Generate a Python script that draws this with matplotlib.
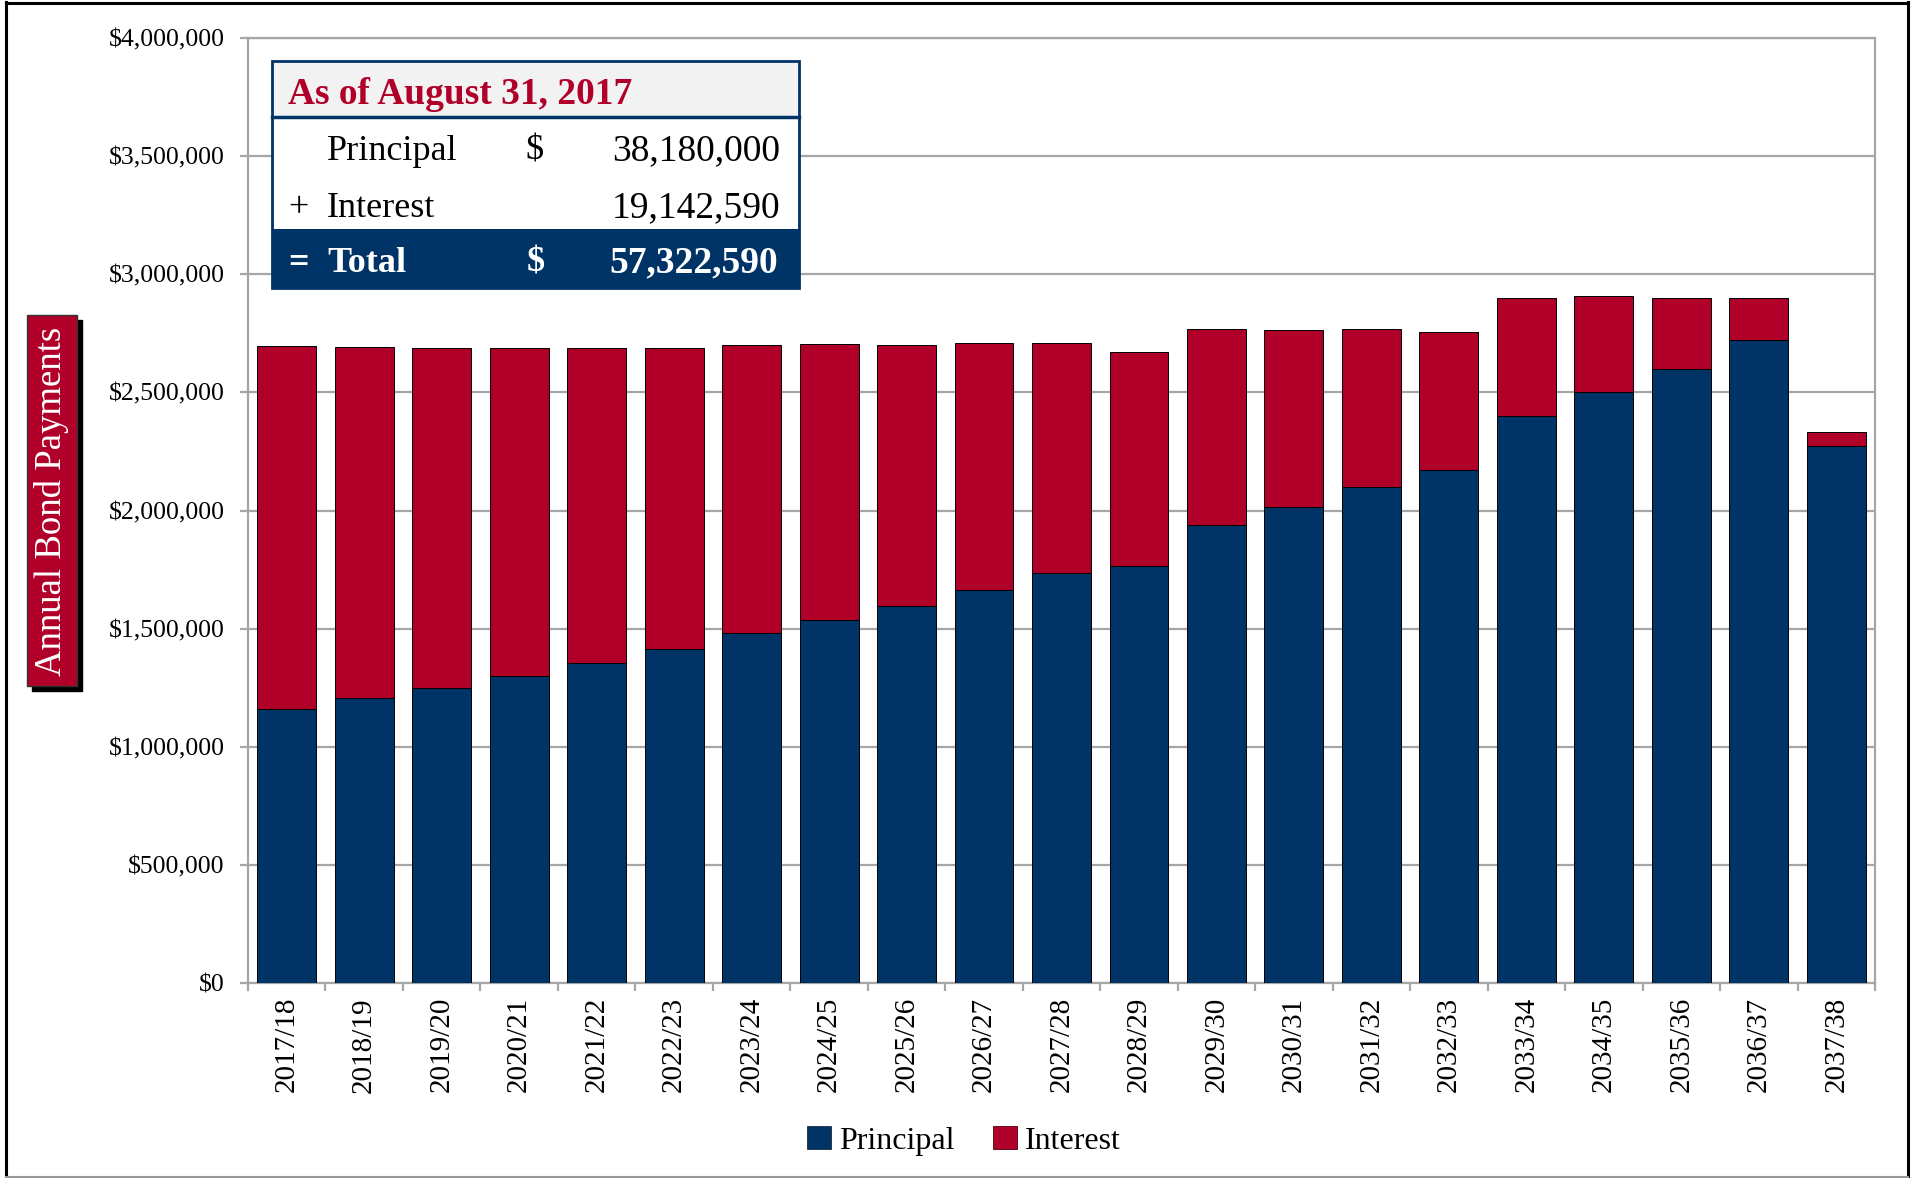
import matplotlib
matplotlib.use("Agg")
import matplotlib.pyplot as plt
from matplotlib.patches import Rectangle, Patch
from matplotlib.lines import Line2D
import numpy as np

# ---------------- data ----------------
years = ["2017/18", "2018/19", "2019/20", "2020/21", "2021/22", "2022/23", "2023/24",
         "2024/25", "2025/26", "2026/27", "2027/28", "2028/29", "2029/30", "2030/31",
         "2031/32", "2032/33", "2033/34", "2034/35", "2035/36", "2036/37", "2037/38"]
principal = [1160000, 1205000, 1250000, 1300000, 1355000, 1415000, 1480000,
             1535000, 1595000, 1665000, 1735000, 1765000, 1940000, 2015000,
             2100000, 2170000, 2400000, 2500000, 2600000, 2720000, 2275000]
interest = [1535000, 1488000, 1438000, 1387000, 1333000, 1273000, 1222000,
            1170000, 1106000, 1042000, 975000, 905000, 830000, 751000,
            670000, 587000, 501000, 406000, 301000, 181000, 58000]
yticks = [0, 500000, 1000000, 1500000, 2000000, 2500000, 3000000, 3500000, 4000000]
table_title = "As of August 31, 2017"
table_principal = "38,180,000"
table_interest = "19,142,590"
table_total = "57,322,590"

# ---------------- style ----------------
NAVY = "#003366"
RED = "#B0002A"
GRID = "#A6A6A6"
SERIF = ["Liberation Serif", "DejaVu Serif"]
plt.rcParams["font.family"] = SERIF

W, H = 1915, 1178
fig = plt.figure(figsize=(W / 100, H / 100), dpi=100)
fig.patch.set_facecolor("white")

def fx(px):
    return px / W

def fy(py):
    return 1 - py / H

ax = fig.add_axes([fx(248), fy(983), fx(1875) - fx(248), fy(38) - fy(983)])

x = np.arange(len(years))
bw = 0.76
ax.bar(x, principal, bw, color=NAVY, edgecolor="black", linewidth=0.7, zorder=3, label="Principal")
ax.bar(x, interest, bw, bottom=principal, color=RED, edgecolor="black", linewidth=0.7, zorder=3,
       label="Interest")

ax.set_xlim(-0.5, len(years) - 0.5)
ax.set_ylim(0, 4000000)
ax.set_yticks(yticks)
ax.set_yticklabels(["${:,.0f}".format(v) for v in yticks])
ax.yaxis.grid(True, color=GRID, linewidth=1.6, zorder=0)
ax.set_axisbelow(True)
for s in ax.spines.values():
    s.set_color(GRID)
    s.set_linewidth(1.6)
ax.tick_params(axis="y", length=6, width=1.6, color=GRID, pad=11, labelcolor="black", labelsize=18.5)

ax.set_xticks(x)
ax.set_xticklabels(years)
ax.set_xticks(np.arange(-0.5, len(years), 1.0), minor=True)
ax.tick_params(axis="x", which="major", length=0, pad=10, labelsize=21, labelrotation=90)
ax.tick_params(axis="x", which="minor", length=6, width=1.6, color=GRID)

# legend
handles = [Patch(facecolor=NAVY, edgecolor="#1a2a40", linewidth=0.6, label="Principal"),
           Patch(facecolor=RED, edgecolor="#500010", linewidth=0.6, label="Interest")]
fig.legend(handles=handles, loc="center", bbox_to_anchor=(fx(964), fy(1141)), ncol=2, frameon=False,
           fontsize=23, handlelength=0.75, handleheight=0.75, handletextpad=0.25, columnspacing=1.2)

# y-axis label box with shadow
fig.add_artist(Rectangle((fx(32), fy(691)), fx(82) - fx(32), fy(320) - fy(691),
                         transform=fig.transFigure, facecolor="black", edgecolor="black", zorder=1))
fig.add_artist(Rectangle((fx(27), fy(686)), fx(77) - fx(27), fy(315) - fy(686),
                         transform=fig.transFigure, facecolor=RED, edgecolor="#333333",
                         linewidth=1.0, zorder=2))
fig.text(fx(52), fy(501), "Annual Bond Payments", rotation=90, color="white", fontsize=26.5,
         ha="center", va="center", zorder=3)

# summary table
L, R, T, B = 272, 799, 61, 288
fig.add_artist(Rectangle((fx(L), fy(117)), fx(R) - fx(L), fy(T) - fy(117), transform=fig.transFigure,
                         facecolor="#F2F2F2", edgecolor="none", zorder=5))
fig.add_artist(Rectangle((fx(L), fy(229)), fx(R) - fx(L), fy(117) - fy(229), transform=fig.transFigure,
                         facecolor="white", edgecolor="none", zorder=5))
fig.add_artist(Rectangle((fx(L), fy(B)), fx(R) - fx(L), fy(229) - fy(B), transform=fig.transFigure,
                         facecolor=NAVY, edgecolor="none", zorder=5))
fig.add_artist(Rectangle((fx(L), fy(B)), fx(R) - fx(L), fy(T) - fy(B), transform=fig.transFigure,
                         facecolor="none", edgecolor=NAVY, linewidth=2.0, zorder=6))
fig.add_artist(Line2D([fx(L), fx(R)], [fy(117), fy(117)], transform=fig.transFigure,
                      color=NAVY, linewidth=2.5, zorder=6))

fs = 26
fig.text(fx(288), fy(104), table_title, color=RED, fontsize=27, fontweight="bold", ha="left",
         va="baseline", zorder=7)
fig.text(fx(327), fy(160), "Principal", color="black", fontsize=fs, ha="left", va="baseline", zorder=7)
fig.text(fx(525), fy(160), "$", color="black", fontsize=fs, ha="left", va="baseline", zorder=7)
fig.text(fx(780), fy(160), table_principal, color="black", fontsize=27, ha="right", va="baseline", zorder=7)
fig.text(fx(288), fy(217), "+", color="black", fontsize=fs, ha="left", va="baseline", zorder=7)
fig.text(fx(327), fy(217), "Interest", color="black", fontsize=fs, ha="left", va="baseline", zorder=7)
fig.text(fx(780), fy(217), table_interest, color="black", fontsize=27, ha="right", va="baseline", zorder=7)
fig.text(fx(288), fy(272), "=", color="white", fontsize=fs, fontweight="bold", ha="left", va="baseline", zorder=7)
fig.text(fx(327), fy(272), "Total", color="white", fontsize=fs, fontweight="bold", ha="left", va="baseline", zorder=7)
fig.text(fx(527), fy(272), "$", color="white", fontsize=fs, fontweight="bold", ha="left", va="baseline", zorder=7)
fig.text(fx(778), fy(272), table_total, color="white", fontsize=27, fontweight="bold", ha="right",
         va="baseline", zorder=7)

# outer frame
fig.add_artist(Line2D([fx(6), fx(6)], [fy(2), fy(1177)], transform=fig.transFigure, color="black", linewidth=2.2))
fig.add_artist(Line2D([fx(6), fx(1908)], [fy(3), fy(3)], transform=fig.transFigure, color="black", linewidth=2.2))
fig.add_artist(Line2D([fx(1908), fx(1908)], [fy(2), fy(1177)], transform=fig.transFigure, color="black", linewidth=2.2))
fig.add_artist(Line2D([fx(6), fx(1908)], [fy(1176.5), fy(1176.5)], transform=fig.transFigure, color="#999999",
                      linewidth=1.5))

fig.savefig("out.png", dpi=100, facecolor="white")
